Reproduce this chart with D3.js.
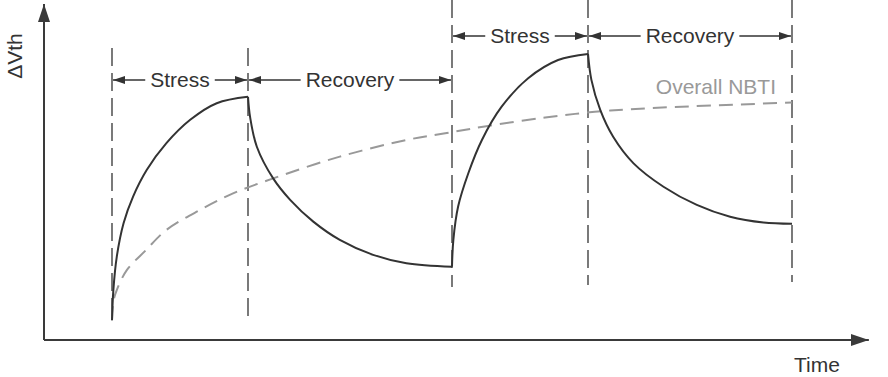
<!DOCTYPE html>
<html>
<head>
<meta charset="utf-8">
<script src="https://cdn.jsdelivr.net/npm/d3@7"></script>
<style>
  body { margin: 0; background: #fff; }
  text { font-family: "Liberation Sans", Arial, Helvetica, sans-serif; }
</style>
</head>
<body>
<script>
var width = 888;
var height = 377;

// phase boundaries (time units) and labels
var phaseBounds = [0, 2, 5, 7, 10];
var phaseLabels = ['Stress', 'Recovery', 'Stress', 'Recovery'];

// Delta Vth, [time, value]
var stress1 = [[0, 6.2], [0.02, 15.6], [0.07, 26.0], [0.17, 36.5], [0.31, 44.8], [0.51, 53.1],
    [0.80, 61.5], [1.15, 68.8], [1.54, 74.0], [2, 76.0]];
var recovery1 = [[2, 76.0], [2.03, 69.8], [2.13, 60.4], [2.37, 50.5], [2.62, 43.8], [2.96, 37.0],
    [3.35, 31.3], [3.84, 26.6], [4.33, 24.0], [5, 22.9]];
var stress2 = [[5, 22.9], [5.02, 31.3], [5.09, 41.7], [5.24, 52.1], [5.44, 62.5], [5.73, 72.9],
    [6.12, 81.8], [6.56, 87.5], [7, 89.4]];
var recovery2 = [[7, 89.4], [7.05, 81.3], [7.18, 71.9], [7.37, 63.5], [7.67, 55.2], [8.11, 47.9],
    [8.60, 42.2], [9.09, 38.5], [9.58, 36.7], [10, 36.3]];
var overall = [[0, 6.2], [0.02, 12.0], [0.07, 15.6], [0.22, 21.9], [0.50, 28.1], [0.80, 34.4],
    [1.29, 40.6], [1.78, 45.8], [2.37, 50.5], [3.35, 57.3], [4.33, 62.5], [4.90, 64.6],
    [5.53, 66.9], [6.37, 69.5], [7.10, 71.3], [7.86, 72.4], [10, 74.2]];

var svg = d3.select('body').append('svg')
    .attr('width', width)
    .attr('height', height);

var x = d3.scaleLinear().domain([0, 10]).range([112, 792]);
var y = d3.scaleLinear().domain([0, 105]).range([340, 4]);

var defs = svg.append('defs');
defs.append('marker')
    .attr('id', 'axisHead')
    .attr('viewBox', '0 0 18 12')
    .attr('refX', 18).attr('refY', 6)
    .attr('markerWidth', 18).attr('markerHeight', 12)
    .attr('markerUnits', 'userSpaceOnUse')
    .attr('orient', 'auto')
    .append('path').attr('d', 'M0,0L18,6L0,12Z').attr('fill', '#3a3a3a');
defs.append('marker')
    .attr('id', 'dimHead')
    .attr('viewBox', '0 0 12 8')
    .attr('refX', 12).attr('refY', 4)
    .attr('markerWidth', 12).attr('markerHeight', 8)
    .attr('markerUnits', 'userSpaceOnUse')
    .attr('orient', 'auto')
    .append('path').attr('d', 'M0,0L12,4L0,8Z').attr('fill', '#333');

// axes
var x0 = x(-1), y0 = y(0);
svg.append('line')
    .attr('x1', x0).attr('y1', y0).attr('x2', x(11.13)).attr('y2', y0)
    .attr('stroke', '#3a3a3a').attr('stroke-width', 2)
    .attr('marker-end', 'url(#axisHead)');
svg.append('line')
    .attr('x1', x0).attr('y1', y0).attr('x2', x0).attr('y2', y(105))
    .attr('stroke', '#3a3a3a').attr('stroke-width', 2)
    .attr('marker-end', 'url(#axisHead)');

svg.append('text')
    .attr('x', 817).attr('y', 372)
    .attr('text-anchor', 'middle')
    .attr('font-size', 21).attr('fill', '#333')
    .text('Time');
svg.append('text')
    .attr('transform', 'translate(22,56) rotate(-90)')
    .attr('text-anchor', 'middle')
    .attr('font-size', 21).attr('fill', '#333')
    .text('\u0394Vth');

// dashed phase boundaries
var vTop = [48, 48, 0, 0, 0];
var vBottom = [321, 321, 287, 285, 282];
svg.append('g').selectAll('line')
    .data(phaseBounds)
    .enter().append('line')
    .attr('x1', (d) => x(d)).attr('x2', (d) => x(d))
    .attr('y1', (d, i) => vTop[i]).attr('y2', (d, i) => vBottom[i])
    .attr('stroke', '#333').attr('stroke-width', 1.3)
    .attr('stroke-dasharray', '18,7');

// dimension arrows with labels
var dimY = [80, 80, 36, 36];
var dims = svg.append('g');
phaseLabels.forEach((label, i) => {
    var a = x(phaseBounds[i]), b = x(phaseBounds[i + 1]), m = (a + b) / 2;
    var t = dims.append('text')
        .attr('x', m).attr('y', dimY[i]).attr('dy', '0.35em')
        .attr('text-anchor', 'middle')
        .attr('font-size', 21).attr('fill', '#333')
        .text(label);
    var half = t.node().getComputedTextLength() / 2 + 5;
    dims.append('line')
        .attr('x1', m - half).attr('y1', dimY[i]).attr('x2', a + 1).attr('y2', dimY[i])
        .attr('stroke', '#333').attr('stroke-width', 1.3)
        .attr('marker-end', 'url(#dimHead)');
    dims.append('line')
        .attr('x1', m + half).attr('y1', dimY[i]).attr('x2', b - 1).attr('y2', dimY[i])
        .attr('stroke', '#333').attr('stroke-width', 1.3)
        .attr('marker-end', 'url(#dimHead)');
});

var line = d3.line()
    .x((d) => x(d[0]))
    .y((d) => y(d[1]))
    .curve(d3.curveCatmullRom.alpha(0.5));

svg.append('path')
    .attr('d', line(overall))
    .attr('fill', 'none')
    .attr('stroke', '#999').attr('stroke-width', 2)
    .attr('stroke-dasharray', '14,8');

svg.append('g').selectAll('path')
    .data([stress1, recovery1, stress2, recovery2])
    .enter().append('path')
    .attr('d', line)
    .attr('fill', 'none')
    .attr('stroke', '#333').attr('stroke-width', 2);

svg.append('text')
    .attr('x', 776).attr('y', 94)
    .attr('text-anchor', 'end')
    .attr('font-size', 21).attr('fill', '#999')
    .text('Overall NBTI');
</script>
</body>
</html>
